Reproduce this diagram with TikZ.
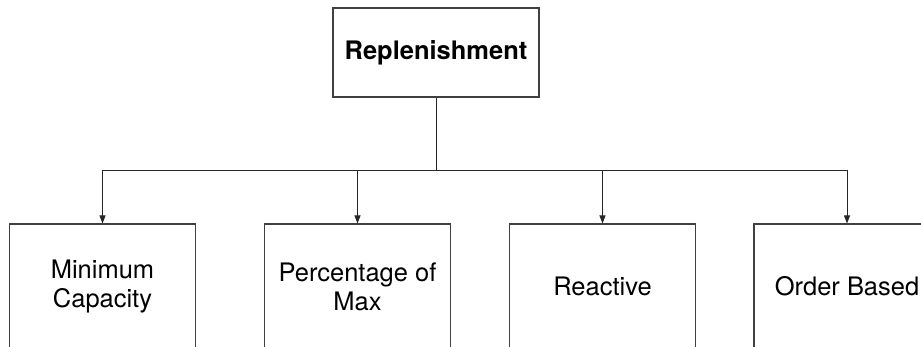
\documentclass[tikz,border=0pt]{standalone}
\usepackage{fontspec}
\setmainfont{TeX Gyre Heros}
\usetikzlibrary{arrows.meta}

\begin{document}
\begin{tikzpicture}[
          % Stile del blocco in alto
          radice/.style={
              draw=black!75,
              rectangle,
              minimum width=4.12cm,
              minimum height=1.78cm,
              line width=0.6pt,
              font=\fontsize{14.5}{17}\selectfont\bfseries
          },
          % Stile dei blocchi in basso
          blocco/.style={
              draw=black!75,
              rectangle,
              minimum width=3.72cm,
              minimum height=2.5cm,
              line width=0.6pt,
              align=center,
              font=\fontsize{14.5}{16.5}\selectfont
          },
          % Stile delle linee e delle frecce
          linea/.style={
              line width=0.5pt,
              draw=black!85
          },
          freccia/.style={
              linea,
              -{Triangle[length=1.6mm, width=1.2mm]}
          }
      ]
          \clip (0,0) rectangle (18.42,6.94);

          % 1. Blocco principale
          \node [radice] (radice) at (8.72,5.89) {Replenishment};

          % 2. Blocchi figli
          \node [blocco] (minimo) at (2.05,1.21) {Minimum\\Capacity};
          \node [blocco] (percentuale) at (7.15,1.21) {Percentage of\\Max};
          \node [blocco] (reattivo) at (12.05,1.21) {Reactive};
          \node [blocco] (ordine) at (16.94,1.21) {Order Based};

          % 3. Linea verticale e barra orizzontale
          \coordinate (barra) at (8.72,3.54);
          \draw [linea] (radice.south) -- (barra);
          \draw [linea] (minimo.north |- barra) -- (ordine.north |- barra);

          % 4. Frecce verso i blocchi figli
          \draw [freccia] (minimo.north |- barra) -- (minimo.north);
          \draw [freccia] (percentuale.north |- barra) -- (percentuale.north);
          \draw [freccia] (reattivo.north |- barra) -- (reattivo.north);
          \draw [freccia] (ordine.north |- barra) -- (ordine.north);

      \end{tikzpicture}
\end{document}
